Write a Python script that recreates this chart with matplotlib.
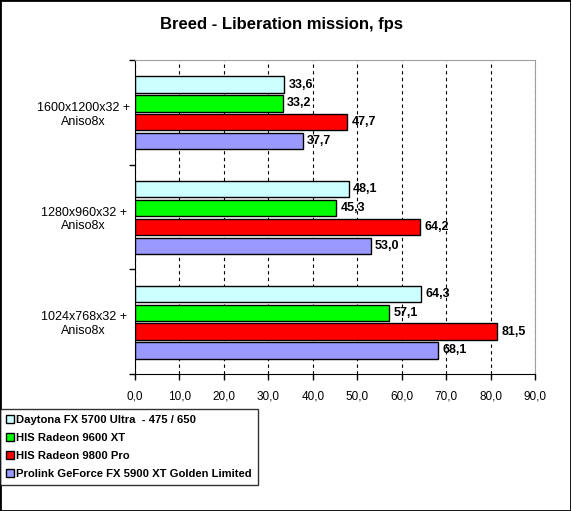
import matplotlib
matplotlib.use('Agg')
import matplotlib.pyplot as plt
import matplotlib.ticker as ticker
from matplotlib.patches import Patch, Rectangle
import numpy as np

plt.rcParams['font.family'] = ['Liberation Sans', 'DejaVu Sans']

categories = ['1024x768x32 +\nAniso8x', '1280x960x32 +\nAniso8x', '1600x1200x32 +\nAniso8x']
series_names = ['Daytona FX 5700 Ultra  - 475 / 650',
                'HIS Radeon 9600 XT',
                'HIS Radeon 9800 Pro',
                'Prolink GeForce FX 5900 XT Golden Limited']
daytona = [64.3, 48.1, 33.6]
his9600 = [57.1, 45.3, 33.2]
his9800 = [81.5, 64.2, 47.7]
prolink = [68.1, 53.0, 37.7]
colors = ['#CCFFFF', '#00FF00', '#FF0000', '#9999FF']

W, H = 571, 511
fig = plt.figure(figsize=(W / 100, H / 100), dpi=100)
fig.patch.set_facecolor('white')
fig.patches.append(Rectangle((0, 0), 1, 1, transform=fig.transFigure,
                             fill=False, edgecolor='black', linewidth=2))

ax = fig.add_axes([135 / W, 1 - 374 / H, 400 / W, 314 / H])

fig.text(0.493, 1 - 24 / H, 'Breed - Liberation mission, fps', ha='center', va='center',
         fontsize=12, fontweight='bold')

pitch = 0.18
height = 0.155
offsets = [1.5, 0.5, -0.5, -1.5]
ypos = np.arange(len(categories)) + 0.5
for vals, off, col in zip([daytona, his9600, his9800, prolink], offsets, colors):
    bars = ax.barh(ypos + off * pitch - 0.005, vals, height=height, color=col,
                   edgecolor='black', linewidth=1)
    for b, v in zip(bars, vals):
        ax.text(v + 1.0, b.get_y() + b.get_height() / 2, ('%.1f' % v).replace('.', ','),
                va='center', ha='left', fontsize=9, fontweight='bold')

ax.set_xlim(0, 90)
ax.set_ylim(0, 3)
ax.xaxis.set_major_locator(ticker.MultipleLocator(10))
ax.xaxis.set_major_formatter(ticker.FuncFormatter(lambda x, p: ('%.1f' % x).replace('.', ',')))
ax.xaxis.grid(True, color='black', linestyle=(0, (3, 3)), linewidth=0.8)
ax.set_axisbelow(True)
ax.set_yticks([0, 1, 2, 3])
ax.set_yticklabels([])
ax.set_yticks(ypos, minor=True)
ax.set_yticklabels(categories, minor=True, ha='center', fontsize=9)
ax.tick_params(axis='y', which='minor', length=0, pad=37)
ax.tick_params(axis='y', which='major', length=4, direction='out', width=1)
ax.tick_params(axis='x', length=4, direction='out', width=1, labelsize=8.5, pad=8)
for s in ['top', 'right']:
    ax.spines[s].set_color('#A0A0A0')
for s in ['left', 'bottom']:
    ax.spines[s].set_color('black')

handles = [Patch(facecolor=c, edgecolor='black', linewidth=1) for c in colors]
leg = fig.legend(handles, series_names, loc='upper left',
                 bbox_to_anchor=(0 / W, 1 - 409 / H), frameon=True,
                 prop={'size': 8.1, 'weight': 'bold'}, handlelength=0.65, handleheight=0.65,
                 handletextpad=0.25, borderpad=0.55, labelspacing=0.7, fancybox=False,
                 borderaxespad=0)
leg.get_frame().set_edgecolor('black')
leg.get_frame().set_linewidth(1)

fig.savefig('out.png', dpi=100)
